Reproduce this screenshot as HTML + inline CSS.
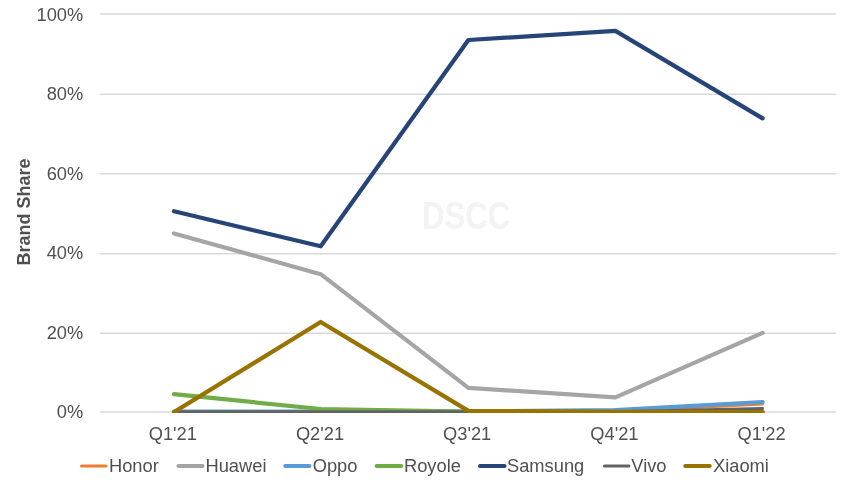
<!DOCTYPE html>
<html lang="en"><head><meta charset="utf-8"><title>Brand Share</title>
<style>
html,body{margin:0;padding:0;background:#fff;}
body{width:850px;height:485px;overflow:hidden;}
svg{display:block;}
text{font-family:"Liberation Sans",Arial,sans-serif;fill:#505050;}
.t{font-size:18.3px;}
.g{stroke:#D9D9D9;stroke-width:1.4;}
.s{fill:none;stroke-linecap:round;stroke-linejoin:round;}
</style></head><body>
<svg width="850" height="485" viewBox="0 0 850 485">
<rect width="850" height="485" fill="#fff"/>
<defs><clipPath id="c"><rect x="0" y="0" width="850" height="413.1"/></clipPath></defs>
<line class="g" x1="100.0" x2="836.0" y1="14.00" y2="14.00"/>
<text class="t" x="83.3" y="21.00" text-anchor="end">100%</text>
<line class="g" x1="100.0" x2="836.0" y1="94.20" y2="94.20"/>
<text class="t" x="83.3" y="100.00" text-anchor="end">80%</text>
<line class="g" x1="100.0" x2="836.0" y1="173.70" y2="173.70"/>
<text class="t" x="83.3" y="179.80" text-anchor="end">60%</text>
<line class="g" x1="100.0" x2="836.0" y1="253.70" y2="253.70"/>
<text class="t" x="83.3" y="259.00" text-anchor="end">40%</text>
<line class="g" x1="100.0" x2="836.0" y1="333.20" y2="333.20"/>
<text class="t" x="83.3" y="339.00" text-anchor="end">20%</text>
<line class="g" x1="100.0" x2="836.0" y1="412.00" y2="412.00"/>
<text class="t" x="83.3" y="418.20" text-anchor="end">0%</text>
<text x="466.2" y="229.3" text-anchor="middle" textLength="88.2" lengthAdjust="spacingAndGlyphs" style="font-size:38px;font-weight:bold;fill:#F3F3F3">DSCC</text>
<g clip-path="url(#c)">
<polyline class="s" stroke="#ED7D31" stroke-width="3.0" points="174.0,411.70 320.7,411.70 468.4,411.70 615.4,411.70 762.6,404.00"/>
<polyline class="s" stroke="#A5A5A5" stroke-width="4.2" points="174.0,233.40 320.7,274.20 468.4,387.90 615.4,397.40 762.6,332.90"/>
<polyline class="s" stroke="#5B9BD5" stroke-width="4.2" points="174.0,411.50 320.7,411.50 468.4,411.60 615.4,410.20 762.6,402.00"/>
<polyline class="s" stroke="#70AD47" stroke-width="4.2" points="174.0,394.20 320.7,409.00 468.4,411.60 615.4,412.00 762.6,412.00"/>
<polyline class="s" stroke="#264478" stroke-width="4.2" points="174.0,211.20 320.7,246.30 468.4,40.00 615.4,30.90 762.6,118.40"/>
<polyline class="s" stroke="#636363" stroke-width="3.0" points="174.0,411.85 320.7,411.85 468.4,411.85 615.4,411.85 762.6,408.50"/>
<polyline class="s" stroke="#997300" stroke-width="4.2" points="174.0,412.10 320.7,322.00 468.4,410.90 615.4,411.80 762.6,412.10"/>
</g>
<text class="t" x="172.8" y="439.9" text-anchor="middle">Q1'21</text>
<text class="t" x="320.0" y="439.9" text-anchor="middle">Q2'21</text>
<text class="t" x="467.2" y="439.9" text-anchor="middle">Q3'21</text>
<text class="t" x="614.4" y="439.9" text-anchor="middle">Q4'21</text>
<text class="t" x="761.6" y="439.9" text-anchor="middle">Q1'22</text>
<text transform="translate(30.2,211.9) rotate(-90)" text-anchor="middle" style="font-size:18px;font-weight:bold">Brand Share</text>
<line class="s" stroke="#ED7D31" stroke-width="3.0" x1="81.5" x2="106.0" y1="466" y2="466"/>
<text class="t" x="109.0" y="471.6">Honor</text>
<line class="s" stroke="#A5A5A5" stroke-width="4.2" x1="178.5" x2="202.4" y1="466" y2="466"/>
<text class="t" x="205.5" y="471.6">Huawei</text>
<line class="s" stroke="#5B9BD5" stroke-width="4.2" x1="285.3" x2="309.4" y1="466" y2="466"/>
<text class="t" x="312.7" y="471.6">Oppo</text>
<line class="s" stroke="#70AD47" stroke-width="4.2" x1="376.7" x2="401.2" y1="466" y2="466"/>
<text class="t" x="404.0" y="471.6">Royole</text>
<line class="s" stroke="#264478" stroke-width="4.2" x1="480.1" x2="504.5" y1="466" y2="466"/>
<text class="t" x="507.0" y="471.6">Samsung</text>
<line class="s" stroke="#636363" stroke-width="3.0" x1="604.5" x2="628.9" y1="466" y2="466"/>
<text class="t" x="631.3" y="471.6">Vivo</text>
<line class="s" stroke="#997300" stroke-width="4.2" x1="685.3" x2="709.7" y1="466" y2="466"/>
<text class="t" x="713.0" y="471.6">Xiaomi</text>
</svg></body></html>
